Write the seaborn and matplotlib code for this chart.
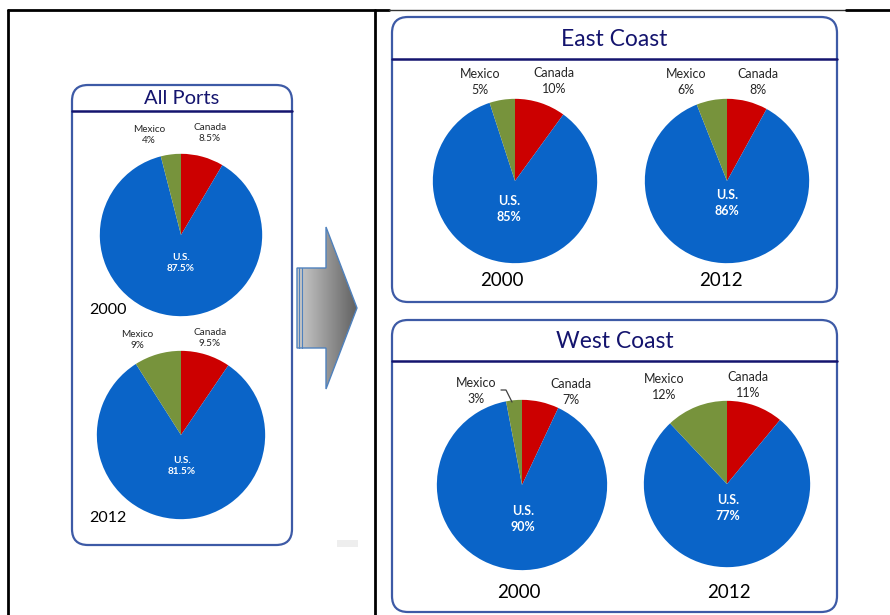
import numpy as np
import matplotlib
matplotlib.use("Agg")
import matplotlib.pyplot as plt
import seaborn as sns
from matplotlib.patches import FancyBboxPatch, Polygon, Rectangle

# Shares of port traffic by country, in percent
panels = ["All Ports 2000", "All Ports 2012", "East Coast 2000",
          "East Coast 2012", "West Coast 2000", "West Coast 2012"]
years = ["2000", "2012", "2000", "2012", "2000", "2012"]
canada = [8.5, 9.5, 10, 8, 7, 11]
us = [87.5, 81.5, 85, 86, 90, 77]
mexico = [4, 9, 5, 6, 3, 12]

slice_names = ["Canada", "U.S.", "Mexico"]
slice_colors = ["#cc0000", "#0a64c8", "#77933c"]

sns.set_theme(style="white")
plt.rcParams["font.family"] = ["Lato", "DejaVu Sans"]

W, H = 890, 615
fig = plt.figure(figsize=(W / 100, H / 100), dpi=100)
fig.patch.set_facecolor("white")

# overlay in pixel coordinates for frames, boxes and arrow
ov = fig.add_axes([0, 0, 1, 1])
ov.set_xlim(0, W)
ov.set_ylim(H, 0)
ov.axis("off")

# black page frame
ov.plot([8, 389], [10, 10], color="black", lw=2)
ov.plot([389, 846], [10, 10], color="#333333", lw=1)
ov.plot([846, 890], [10, 10], color="black", lw=2)
ov.plot([8, 8], [10, 615], color="black", lw=2)
ov.plot([375, 375], [10, 615], color="black", lw=2)

navy = "#14146e"
edge = "#3d5aa6"


def draw_box(x0, y0, x1, y1, yh, title, fs):
    box = FancyBboxPatch((x0, y0), x1 - x0, y1 - y0,
                         boxstyle="round,pad=0,rounding_size=16",
                         fc="white", ec=edge, lw=1.6, zorder=1)
    ov.add_patch(box)
    ov.plot([x0, x1], [yh, yh], color=navy, lw=1.8, zorder=2)
    ov.text((x0 + x1) / 2, (y0 + yh) / 2 + 1, title, ha="center", va="center",
            fontsize=fs, color=navy, zorder=3)


draw_box(72, 85, 292, 545, 111, "All Ports", 14.5)
draw_box(392, 17, 837, 302, 59, "East Coast", 16.5)
draw_box(392, 320, 837, 612, 361, "West Coast", 16.5)

# gradient arrow
arrow_pts = [(297, 268), (326, 268), (326, 227), (357, 308),
             (326, 389), (326, 348), (297, 348)]
arrow = Polygon(arrow_pts, closed=True, fc="none", ec="#4f81bd", lw=1, zorder=4)
ov.add_patch(arrow)
grad = np.linspace(0.80, 0.38, 256)
grad_img = np.dstack([grad, grad, grad]).reshape(1, 256, 3)
img = ov.imshow(grad_img, extent=(297, 357, 389, 227), aspect="auto", zorder=3)
img.set_clip_path(arrow)
ov.plot([299, 299], [268, 348], color="#4f81bd", lw=0.8, zorder=5)
ov.plot([302, 302], [268, 348], color="#4f81bd", lw=0.8, zorder=5)
ov.add_patch(Rectangle((337, 540), 21, 7, fc="#eeeeee", ec="none"))
ov.set_xlim(0, W)
ov.set_ylim(H, 0)

# pie geometry (pixel centre and radius) for each panel
centres = [(181, 235), (181, 435), (515, 181), (727, 181), (522, 485), (727, 484)]
radii = [82, 85, 83, 83, 86, 84]

for i in range(len(panels)):
    cx, cy = centres[i]
    r = radii[i]
    ax = fig.add_axes([(cx - r) / W, 1 - (cy + r) / H, 2 * r / W, 2 * r / H])
    ax.pie([canada[i], us[i], mexico[i]], colors=slice_colors, startangle=90,
           counterclock=False, radius=1, wedgeprops=dict(linewidth=0))
    ax.set_xlim(-1.01, 1.01)
    ax.set_ylim(-1.01, 1.01)
    ax.axis("off")

# top layer for the labels, drawn above the pies
top = fig.add_axes([0, 0, 1, 1])
top.set_xlim(0, W)
top.set_ylim(H, 0)
top.axis("off")
top.patch.set_alpha(0)

mex_pos = [(149, 135), (137, 340), (480, 82), (686, 82), (476, 391), (664, 387)]
can_pos = [(210, 133), (210, 338), (554, 81), (758, 82), (571, 392), (748, 385)]
us_pos = [(181, 263), (182, 466), (509, 209), (727, 203), (523, 519), (728, 508)]
year_pos = [(108, 310), (108, 518), (502, 281), (721, 281), (519, 593), (729, 593)]
small = [True, True, False, False, False, False]

for i in range(len(panels)):
    fs = 7.2 if small[i] else 9
    top.text(*mex_pos[i], f"Mexico\n{mexico[i]:g}%", ha="center", va="center",
             fontsize=fs, color="#262626", linespacing=1.35)
    top.text(*can_pos[i], f"Canada\n{canada[i]:g}%", ha="center", va="center",
             fontsize=fs, color="#262626", linespacing=1.35)
    top.text(*us_pos[i], f"U.S.\n{us[i]:g}%", ha="center", va="center",
             fontsize=fs, color="white", fontweight="bold", linespacing=1.35)
    top.text(*year_pos[i], years[i], ha="center", va="center",
             fontsize=11.5 if small[i] else 13.5, color="black")

# leader line for the small Mexico slice on the West Coast 2000 pie
top.plot([501, 506, 512], [390, 390, 402], color="#404040", lw=0.9)

fig.savefig("out.png", dpi=100, facecolor="white")
